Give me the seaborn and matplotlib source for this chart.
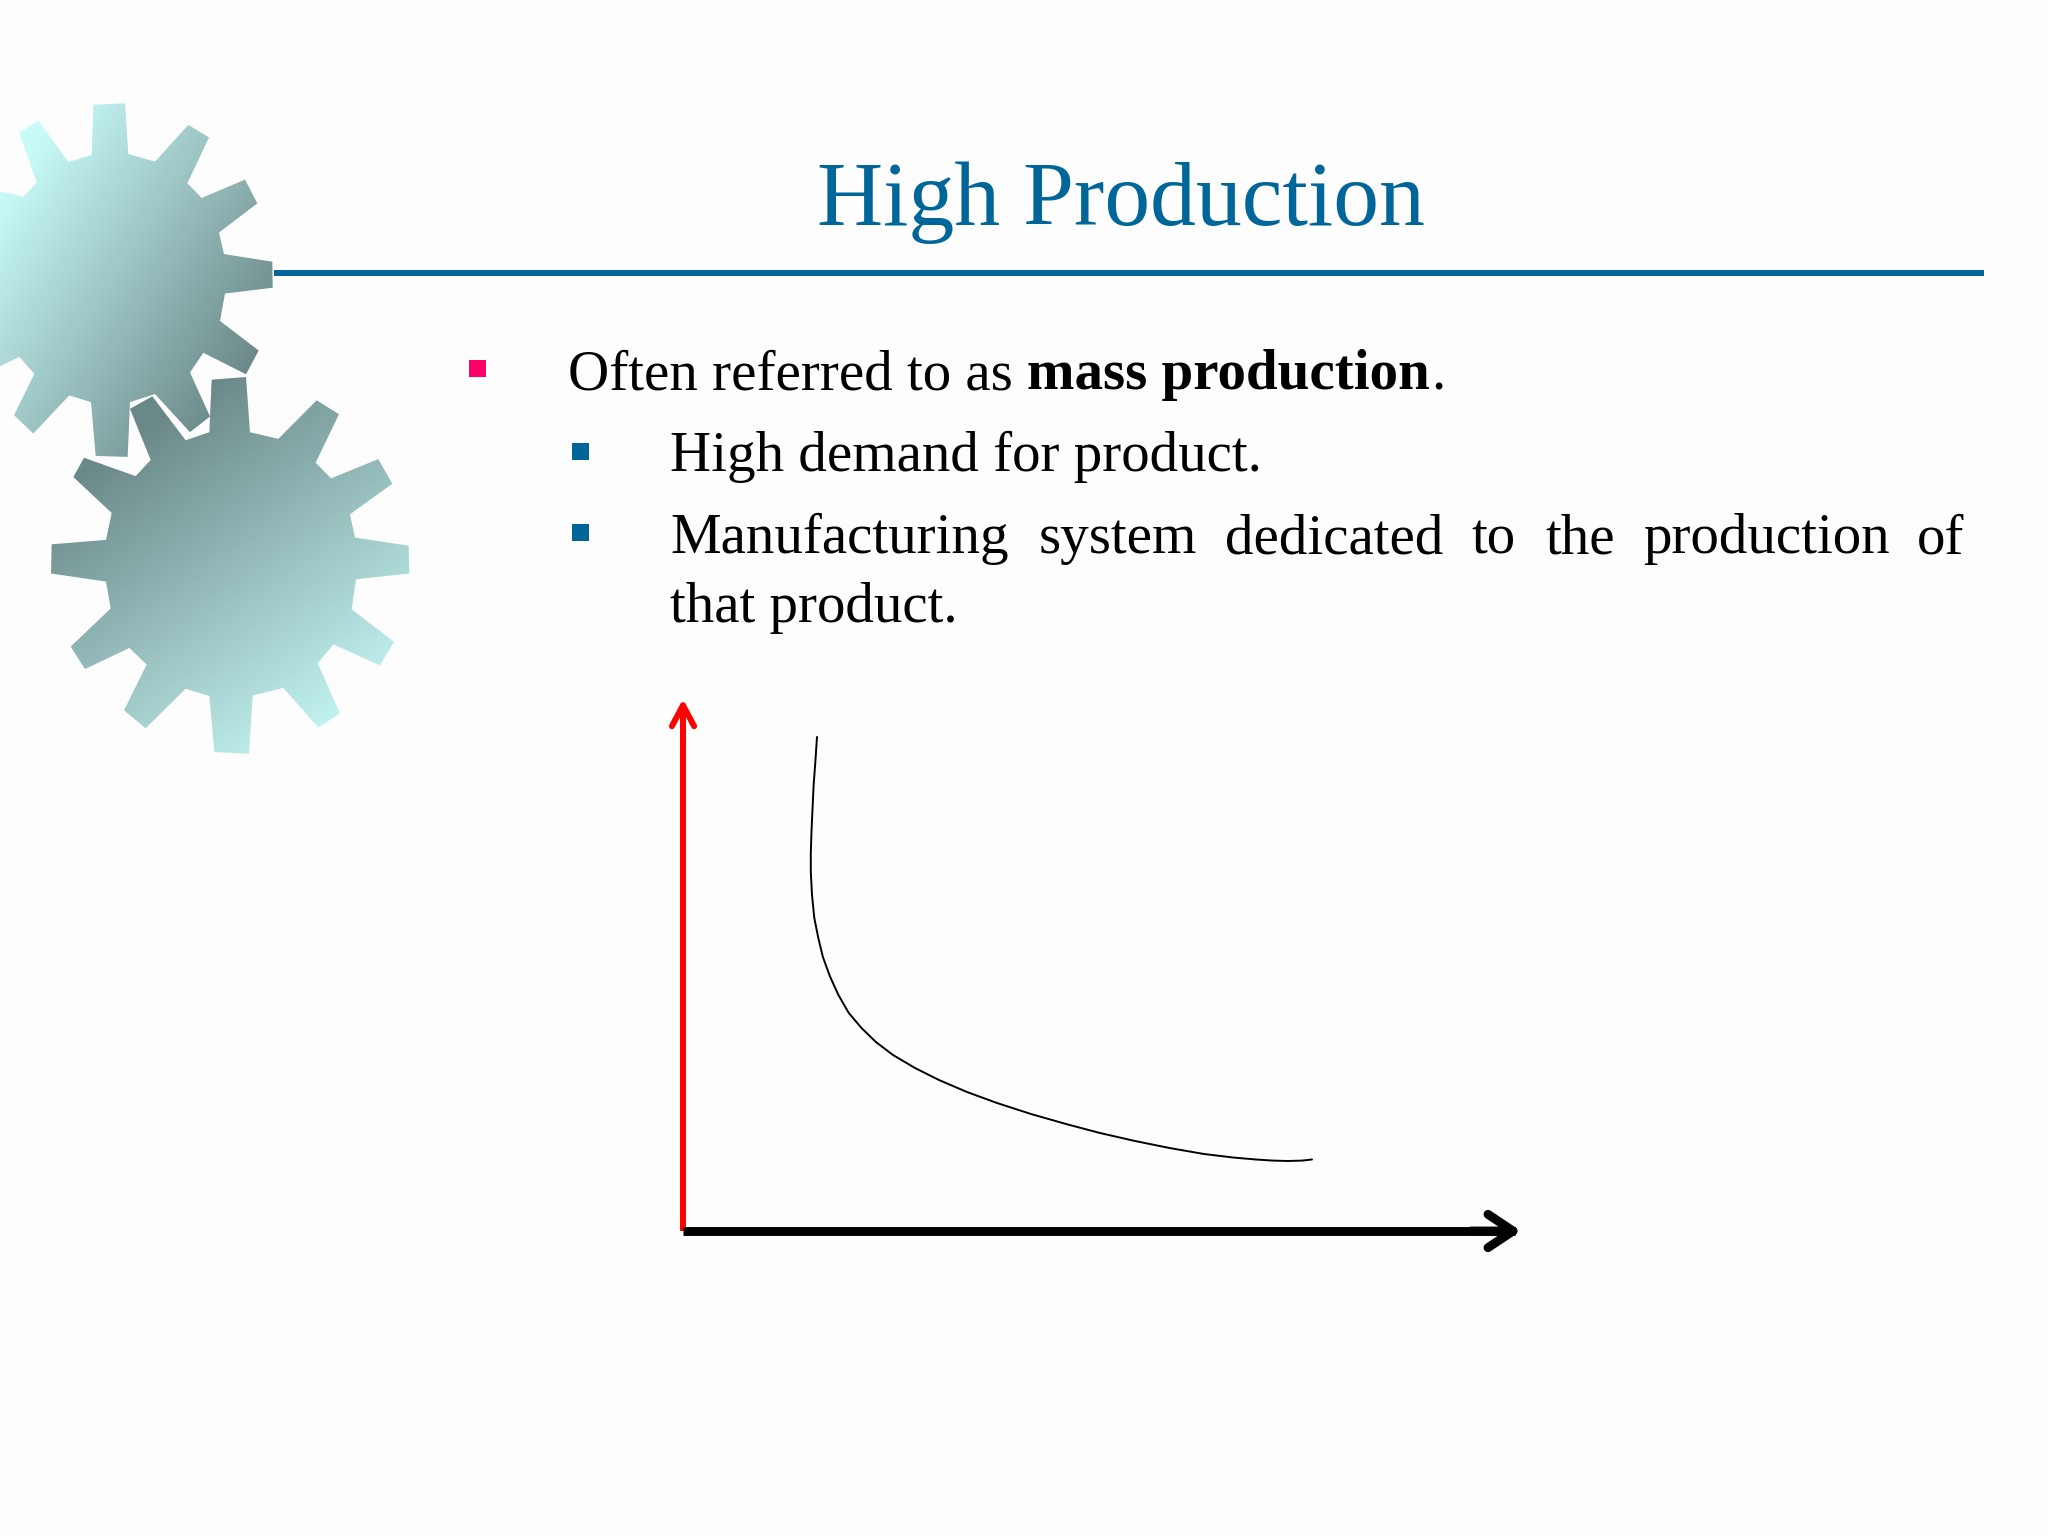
import numpy as np
import pandas as pd
import seaborn as sns
import matplotlib.pyplot as plt
from matplotlib.patches import Polygon

# curve, in pixels measured from the axis corner
curve_x = [134, 132.4, 130.7, 129.5, 128.4, 127.8, 127.8, 129, 131.3, 135.3, 139.9, 146.8, 155.4, 165.8,
           178.5, 192.9, 210, 232, 256, 284, 314, 348, 383, 417, 452, 486.5, 521, 550, 573, 590, 604.5,
           619, 629]
curve_y = [494, 470, 447, 422, 397, 378, 359, 336, 313, 293, 274, 255, 236, 218, 203, 189, 176, 163,
           151, 139, 128, 117, 107, 98, 90, 83, 77, 73.5, 71.5, 70.4, 70, 70.4, 71.5]
x_limit = 838
y_limit = 530

title = 'High Production'
line_1 = ['Often referred to as', 'mass production', '.']
line_1_x = [568, 1027, 1431]
line_2 = 'High demand for product.'
line_3_words = ['Manufacturing', 'system', 'dedicated', 'to', 'the', 'production', 'of']
line_3_x = [670, 1039, 1225, 1471, 1545, 1643, 1917]
line_4 = 'that product.'

# gear outlines
gear_1 = [(280, 55), (375, 52), (385, 165), (465, 182), (565, 100), (627, 128), (562, 230), (605, 263),
          (735, 222), (772, 275), (657, 340), (672, 388), (817, 405), (818, 463), (675, 476), (660, 537),
          (776, 603), (738, 656), (610, 608), (570, 652), (630, 750), (570, 785), (465, 700), (390, 718),
          (383, 840), (287, 838), (273, 718), (208, 703), (100, 788), (42, 747), (103, 655), (58, 617),
          (0, 638), (0, 248), (70, 260), (110, 228), (58, 118), (115, 90), (205, 183), (275, 167)]
gear_2 = [(635, 668), (738, 662), (750, 785), (835, 800), (950, 714), (1017, 745), (947, 853), (993, 888),
          (1135, 845), (1177, 900), (1050, 968), (1065, 1020), (1226, 1038), (1228, 1100), (1068, 1113),
          (1055, 1180), (1182, 1252), (1140, 1305), (1000, 1258), (953, 1300), (1020, 1412), (955, 1443),
          (850, 1355), (758, 1372), (747, 1502), (643, 1498), (628, 1373), (557, 1357), (437, 1445),
          (372, 1405), (440, 1303), (388, 1266), (255, 1313), (212, 1263), (332, 1178), (318, 1118),
          (153, 1100), (155, 1035), (318, 1025), (335, 965), (220, 885), (252, 842), (407, 883), (452, 847),
          (390, 733), (457, 705), (557, 803), (628, 785)]

light = '#c8fbf8'
dark = '#6b8888'
blue = '#006699'
pink = '#ff0066'

sns.set_theme(style='white')
plt.rcParams['font.family'] = ['Liberation Serif', 'DejaVu Serif']

fig = plt.figure(figsize=(20.48, 15.36), dpi=100, facecolor='#fdfdfe')

# slide layer, in image pixels
slide = fig.add_axes([0, 0, 1, 1])
slide.axis('off')


def draw_gear(points, colors, wx, wy, vmin, vmax):
    pts = np.array(points, dtype=float)
    pts = np.column_stack([pts[:, 0] / 3, 80 + pts[:, 1] / 2.229])
    x0, x1 = pts[:, 0].min(), pts[:, 0].max()
    y0, y1 = pts[:, 1].min(), pts[:, 1].max()
    xx, yy = np.meshgrid(np.linspace(0, 1, 200), np.linspace(0, 1, 200))
    cmap = sns.blend_palette(colors, as_cmap=True)
    im = slide.imshow(wx * xx + wy * yy, extent=[x0, x1, y1, y0], cmap=cmap, vmin=vmin, vmax=vmax,
                      aspect='auto', interpolation='bilinear')
    clip = Polygon(pts, closed=True, transform=slide.transData, fc='none', ec='none')
    slide.add_patch(clip)
    im.set_clip_path(clip)


draw_gear(gear_1, [light, dark], 0.55, 0.45, 0.12, 0.85)
draw_gear(gear_2, [dark, light], 0.4, 0.6, 0.18, 0.92)
slide.set_xlim(0, 2048)
slide.set_ylim(1536, 0)

slide.plot([274, 1984], [273, 273], color=blue, lw=4.3, solid_capstyle='butt')
slide.text(1121, 225, title, color=blue, fontsize=66, ha='center', va='baseline')

for word, xpos, weight in zip(line_1, line_1_x, ['normal', 'bold', 'normal']):
    slide.text(xpos, 389, word, color='black', fontsize=41, fontweight=weight, va='baseline')
slide.text(670, 471, line_2, color='black', fontsize=41, va='baseline')
for word, xpos in zip(line_3_words, line_3_x):
    slide.text(xpos, 553, word, color='black', fontsize=41, va='baseline')
slide.text(670, 622, line_4, color='black', fontsize=41, va='baseline')

# bullets
slide.fill_between([469, 486], 360, 377, color=pink, lw=0)
slide.fill_between([572, 589], 443, 460, color=blue, lw=0)
slide.fill_between([572, 589], 524, 541, color=blue, lw=0)

# chart, axis corner at pixel (683, 1231)
ax = fig.add_axes([683 / 2048, 1 - 1231 / 1536, x_limit / 2048, y_limit / 1536])
ax.patch.set_alpha(0)
df = pd.DataFrame({'volume': curve_x, 'cost': curve_y})
sns.lineplot(data=df, x='volume', y='cost', ax=ax, color='black', lw=1.4, sort=False, estimator=None)
ax.set_xlim(0, x_limit)
ax.set_ylim(0, y_limit)
ax.set_xticks([])
ax.set_yticks([])
ax.set_xlabel('')
ax.set_ylabel('')
sns.despine(ax=ax, left=True, bottom=True)

# axis lines with flat ends, arrow heads on top
ax.plot([0, 0], [0, y_limit - 6], color='red', lw=4.3, solid_capstyle='butt', clip_on=False)
ax.plot([0, x_limit - 6], [0, 0], color='black', lw=6.4, solid_capstyle='butt', clip_on=False)
ax.annotate('', xy=(0, y_limit + 2), xytext=(0, y_limit - 40), annotation_clip=False,
            arrowprops=dict(arrowstyle='->,head_length=0.75,head_width=0.4', color='red', lw=4.3,
                            mutation_scale=20, shrinkA=0, shrinkB=0, capstyle='round'))
ax.annotate('', xy=(x_limit, 0), xytext=(x_limit - 50, 0), annotation_clip=False,
            arrowprops=dict(arrowstyle='->,head_length=0.9,head_width=0.6', color='black', lw=6.4,
                            mutation_scale=20, shrinkA=0, shrinkB=0, capstyle='round'))

fig.savefig('out.png', dpi=100, facecolor=fig.get_facecolor())
